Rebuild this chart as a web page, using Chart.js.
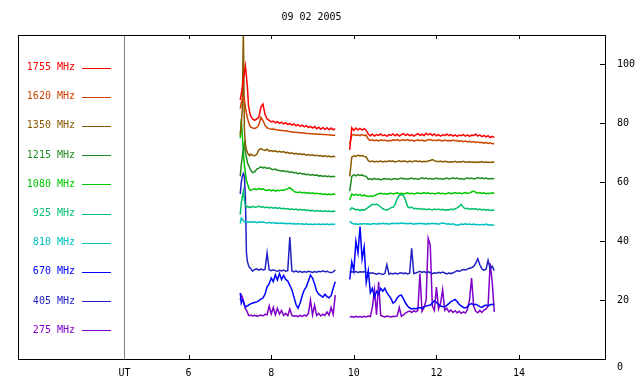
<!DOCTYPE html>
<html>
<head>
<meta charset="utf-8">
<script src="https://cdn.jsdelivr.net/npm/chart.js@4.4.1/dist/chart.umd.min.js"></script>
<style>
  body { margin: 0; background: #fff; }
  #wrap { width: 640px; height: 384px; }
</style>
</head>
<body>
<div id="wrap"><canvas id="radioChart"></canvas></div>
<script>
// time axis (UT hours): first block, gap, second block
var hours = [
  7.25, 7.275, 7.3, 7.325, 7.35, 7.375, 7.4, 7.425, 7.45, 7.475, 7.5,
  7.55, 7.6, 7.65, 7.7, 7.75, 7.8, 7.85, 7.9, 7.95, 8, 8.05, 8.1, 8.15, 8.2,
  8.25, 8.3, 8.35, 8.4, 8.45, 8.5, 8.55, 8.6, 8.65, 8.7, 8.75, 8.8, 8.85, 8.9,
  8.95, 9, 9.05, 9.1, 9.15, 9.2, 9.25, 9.3, 9.35, 9.4, 9.45, 9.5, 9.55,
  9.7,
  9.9, 9.95, 10, 10.05, 10.1, 10.15, 10.2, 10.25, 10.3, 10.35, 10.4, 10.45,
  10.5, 10.55, 10.6, 10.65, 10.7, 10.75, 10.8, 10.85, 10.9, 10.95, 11, 11.05,
  11.1, 11.15, 11.2, 11.25, 11.3, 11.35, 11.4, 11.45, 11.5, 11.55, 11.6, 11.65,
  11.7, 11.75, 11.8, 11.85, 11.9, 11.95, 12, 12.05, 12.1, 12.15, 12.2, 12.25,
  12.3, 12.35, 12.4, 12.45, 12.5, 12.55, 12.6, 12.65, 12.7, 12.75, 12.8, 12.85,
  12.9, 12.95, 13, 13.05, 13.1, 13.15, 13.2, 13.25, 13.3, 13.35, 13.4
];

var f1755 = [
  88, 90, 92, 95, 97, 99.5, 96, 92, 86, 84,
  82.5, 81.5, 81, 81.5, 82, 85.5, 86.5, 83, 81.5, 81,
  80.5, 80.8, 80.2, 80.6, 80, 80.4, 79.8, 80.2, 79.6, 80,
  79.4, 79.8, 79.2, 79.6, 79, 79.4, 78.8, 79.2, 78.6, 79,
  78.4, 78.9, 78.2, 78.7, 78, 78.6, 77.9, 78.5, 77.8, 78.4,
  77.8, 78.2,
  null,
  71, 78.5, 77.6, 78.4, 77.8, 78.3, 77.7, 78.2, 77.6, 76.4,
  75.8, 76.3, 75.7, 76.2, 75.9, 76.4, 75.8, 76.1, 75.6, 76.2,
  75.9, 76.4, 75.8, 76.3, 75.7, 76.2, 76.5, 75.9, 76.3, 75.8,
  76.2, 75.7, 76.1, 76.5, 75.9, 76.3, 75.8, 76.6, 76.1, 76.5,
  75.9, 76.4, 75.8, 76.2, 75.7, 76.1, 75.9, 76.3, 75.8, 76.2,
  75.7, 76.1, 75.6, 76, 75.8, 76.2, 75.7, 76.1, 75.6, 76,
  75.9, 76.3, 75.7, 76.1, 75.5, 75.9, 75.4, 75.8, 75.2, 75.6,
  75.2
];
var f1620 = [
  85, 87, 88, 89, 88, 85.5, 83.5, 81.7, 80.5, 79.5,
  78.8, 78.4, 78.3, 78.6, 79.5, 82, 81, 79.3, 78.5, 78.2,
  78, 78.1, 77.9, 77.8, 77.7, 77.6, 77.5, 77.5, 77.3, 77.2,
  77.1, 77, 77, 76.9, 76.8, 76.8, 76.7, 76.6, 76.6, 76.5,
  76.5, 76.4, 76.4, 76.3, 76.3, 76.2, 76.2, 76.1, 76.1, 76,
  76, 76,
  null,
  73, 76, 76.2, 75.9, 76.1, 75.8, 76.2, 75.9, 76, 74.6,
  74.2, 74.4, 74.1, 74.3, 74, 74.4, 74.2, 74.3, 74, 74.2,
  74.1, 74.4, 74.2, 74.5, 74.1, 74.3, 74.4, 74.2, 74.5, 74.1,
  74.3, 74, 74.2, 74.4, 74.1, 74.3, 74, 74.2, 74.4, 74.5,
  74.2, 74.3, 74.1, 74.4, 74.2, 74, 74.3, 74.1, 74.2, 74,
  74.3, 74.1, 74.2, 73.9, 74.1, 73.8, 74, 73.7, 73.9, 73.6,
  73.8, 73.5, 73.7, 73.4, 73.6, 73.3, 73.5, 73.2, 73.4, 73.1,
  73.2
];
var f1350 = [
  76, 80, 85, 112, 78, 73, 71, 70, 69.5, 69,
  69.5, 69.2, 69, 69.5, 71, 71.4, 71, 70.8, 71.2, 70.6,
  70.8, 70.5, 70.7, 70.3, 70.5, 70.2, 70.4, 70, 70.2, 69.8,
  70, 69.6, 69.8, 69.5, 69.7, 69.4, 69.6, 69.2, 69.4, 69.1,
  69.3, 69, 69.2, 68.9, 69.1, 68.8, 69, 68.7, 68.9, 68.6,
  68.8, 68.7,
  null,
  62, 68.5, 69, 68.8, 69.2, 68.9, 69.1, 68.8, 68.6, 67.3,
  67, 67.2, 66.9, 67.1, 67, 67.2, 66.9, 67.1, 67, 67.3,
  67.1, 67.2, 66.9, 67.1, 67.3, 67, 67.2, 67.1, 66.9, 67.2,
  67, 67.1, 67.3, 67, 67.2, 66.9, 67.1, 67, 67.2, 67.4,
  67.7, 67.3, 67.1, 67, 67.2, 66.9, 67.1, 67, 66.8, 67,
  66.9, 67.1, 66.8, 67, 66.9, 67.1, 66.8, 66.9, 67, 66.8,
  66.9, 66.7, 66.9, 66.8, 67, 66.7, 66.9, 66.8, 66.7, 66.9,
  66.8
];
var f1215 = [
  62, 66, 68.6, 71, 73, 70, 68.5, 66.5, 65.8, 65,
  64.2, 63.3, 63.5, 64.5, 64.8, 65.2, 64.9, 65.1, 64.7, 64.9,
  64.5, 64.3, 64.5, 64.1, 64, 63.8, 63.9, 63.6, 63.7, 63.4,
  63.5, 63.2, 63.3, 62.9, 63.1, 62.8, 62.9, 62.6, 62.7, 62.4,
  62.6, 62.3, 62.5, 62.1, 62.3, 62, 62.2, 61.9, 62.1, 61.8,
  62, 61.9,
  null,
  57, 62, 62.5, 62.2, 62.6, 62.3, 62.5, 62.1, 62, 61,
  61.2, 60.9, 61.3, 61, 61.2, 60.8, 61.1, 61.3, 61, 61.2,
  60.9, 61.1, 61.3, 61, 61.2, 61.4, 61.1, 61.3, 61, 61.2,
  61.4, 61.1, 61.3, 61, 61.2, 61.5, 61.2, 61.4, 61.1, 61.3,
  61, 61.2, 61.4, 61.1, 61.3, 61, 61.2, 61.4, 61.1, 61.3,
  61.5, 61.2, 61.4, 61.1, 61.3, 61, 61.2, 61.5, 61.2, 61.4,
  61.1, 61.3, 61.6, 61.3, 61.5, 61.2, 61.4, 61.1, 61.3, 61.2,
  61.3
];
var f1080 = [
  75, 81.5, 76, 70, 66, 63, 60.5, 59.5, 58.5, 57.5,
  57.3, 57.6, 57.8, 57.5, 57.9, 57.6, 57.8, 57.4, 57.2, 57.5,
  57.1, 57.4, 57, 57.3, 57.1, 57.4, 57.2, 57.6, 57.8, 58.2,
  57.6, 57, 56.6, 56.5, 56.7, 56.4, 56.6, 56.3, 56.5, 56.2,
  56.4, 56.1, 56.3, 56, 56.2, 55.9, 56.1, 55.8, 56, 55.8,
  56, 55.9,
  null,
  54, 56, 55.6, 55.9, 55.5, 55.8, 55.4, 55.7, 55.3, 55.2,
  55.4, 55.2, 55.5, 55.8, 56.1, 56.3, 56, 56.2, 55.9, 56.2,
  56.3, 56, 56.2, 56.4, 56.1, 56.3, 56, 56.2, 56.4, 56.1,
  56.3, 56, 56.2, 56.4, 56.1, 56.3, 56.5, 56.2, 56.4, 56.1,
  56.3, 56, 56.2, 56.4, 56.1, 56.3, 56, 56.2, 56.4, 56.1,
  56.3, 56.5, 56.2, 56.4, 56.1, 56.3, 56.5, 56.2, 56.4, 56.7,
  57, 56.6, 56.3, 56.5, 56.2, 56.4, 56.1, 56.3, 56.2, 56.4,
  56.2
];
var f925 = [
  49, 53, 55, 57, 54, 52, 51.6, 51.8, 51.5, 51.7,
  51.4, 51.8, 51.5, 51.6, 51.9, 51.5, 51.7, 51.4, 51.6, 51.3,
  51.5, 51.2, 51.4, 51.1, 51.3, 51, 51.2, 50.9, 51.1, 50.8,
  51, 50.7, 50.9, 50.6, 50.8, 50.5, 50.7, 50.4, 50.6, 50.3,
  50.5, 50.2, 50.4, 50.2, 50.3, 50.1, 50.3, 50.1, 50.2, 50,
  50.2, 50.1,
  null,
  50.5, 51.3, 51, 50.6, 50.8, 50.4, 50.7, 50.5, 51, 51.5,
  52, 52.5, 52.4, 52.6, 52.2, 51.6, 51, 50.7, 50.6, 50.9,
  51.4, 51.5, 52.5, 54.5, 55.6, 55.8, 55.5, 54, 51.8, 51.3,
  51.6, 51, 51.2, 50.9, 51.1, 50.8, 51, 50.7, 50.9, 50.8,
  50.6, 50.9, 50.7, 50.9, 50.6, 50.8, 50.5, 50.7, 50.6, 50.9,
  50.7, 51, 51.3, 51.8, 52.5, 51.5, 51, 51.2, 50.8, 51.1,
  50.9, 51, 50.7, 50.9, 50.6, 50.8, 50.5, 50.7, 50.4, 50.6,
  50.5
];
var f810 = [
  46, 47.8, 47.5, 47, 46.6, 46.5, 46.7, 46.4, 46.6, 46.5,
  46.6, 46.4, 46.6, 46.3, 46.5, 46.4, 46.6, 46.3, 46.2, 46.4,
  46.1, 46.3, 46.1, 46.2, 46, 46.2, 46, 46.1, 45.9, 46.1,
  45.9, 46, 45.8, 46, 45.8, 45.9, 45.7, 45.9, 45.7, 45.8,
  45.6, 45.8, 45.7, 45.8, 45.6, 45.8, 45.7, 45.8, 45.6, 45.8,
  45.7, 45.8,
  null,
  46.8, 46.1, 45.8, 45.9, 45.7, 45.9, 45.8, 46, 45.8, 45.9,
  45.7, 45.9, 46, 45.8, 46, 45.9, 46.1, 45.9, 46, 45.8,
  46, 46.1, 45.9, 46.1, 46, 46.2, 46, 46.1, 45.9, 46.1,
  46, 45.8, 46, 45.9, 46.1, 45.9, 46, 45.8, 46, 45.9,
  46.1, 45.9, 46, 45.8, 46, 46.2, 46, 45.8, 45.9, 45.7,
  45.9, 45.6, 45.4, 45.6, 45.8, 45.7, 45.9, 45.7, 45.8, 45.6,
  45.8, 45.6, 45.7, 45.5, 45.7, 45.6, 45.8, 45.5, 45.6, 45.4,
  45.5
];
var f670 = [
  22.4, 19, 20, 19.5, 18.5, 17.7, 17.8, 18, 18.3, 18.5,
  18.7, 19, 19.2, 19.4, 19.8, 20.3, 20.7, 22, 24.5, 25.5,
  27.5, 26.3, 28.6, 26.8, 29, 27, 28.4, 27, 26.5, 25,
  23.5, 21, 18.5, 17.2, 19, 21.5, 23.5, 24.5, 26.5, 28.5,
  27.5, 25.5, 23, 22, 21.5, 21, 22, 21.2, 20.8, 21.5,
  24, 26.2,
  null,
  27, 33, 30, 40, 36, 45, 34, 38, 26, 30,
  22.5, 24, 21, 23, 22, 24, 23, 24, 22.5, 21.5,
  20.5, 19, 19.5, 20.7, 21.5, 21.7, 20.5, 19, 18, 17.3,
  17, 17.2, 17, 17.3, 17.5, 17.2, 17.8, 18, 18.2, 18.3,
  19, 19.8, 19.2, 18.5, 18, 17.8, 17.7, 18.2, 18.8, 19.5,
  19.8, 20.2, 19.5, 18.5, 18, 17.5, 17.3, 17.8, 18.5, 18.8,
  18.4, 18.6, 18.2, 17.8, 17.5, 18, 18.3, 18, 18.4, 18.6,
  18.4
];
var f405 = [
  56, 60, 62, 63, 62, 55, 36, 33, 31.8, 31,
  30.8, 29.8, 30.4, 30.6, 30.2, 30.5, 30.2, 30.4, 36, 30.3,
  30, 30.3, 30, 29.8, 30.1, 29.9, 30.2, 29.8, 30, 41.4,
  29.9, 29.6, 29.9, 29.5, 29.8, 29.4, 29.7, 29.5, 29.8, 29.6,
  29.4, 29.7, 29.5, 29.8, 29.6, 29.9, 29.6, 29.8, 29.5, 29.3,
  29.6, 30.2,
  null,
  29.5, 29.6, 29.5, 29.7, 29.4, 29.6, 29.5, 29.6, 29.4, 29.3,
  29.1, 29.3, 29, 28.8, 29.1, 28.9, 28.7, 29, 32, 28.8,
  29.1, 28.9, 29.2, 28.9, 29.1, 29.3, 29, 29.2, 28.9, 29.1,
  37.6, 29, 29.2, 29.5, 29.8, 29.4, 29.7, 29.3, 29.6, 29.3,
  29, 29.3, 29.1, 29.4, 29.2, 29.5, 29.2, 28.9, 29.2, 29,
  29.3, 29.6, 30, 29.7, 30.1, 30.4, 30.2, 30.5, 30.8, 31,
  31.4, 32.5, 34, 32, 30.6, 30.2, 30.5, 33.5, 30.6, 31.5,
  30
];
var f275 = [
  20, 21.7, 21, 20, 18.3, 17, 16.6, 15.8, 14.9, 14.7,
  14.9, 14.6, 14.8, 14.5, 14.7, 14.9, 14.6, 15.2, 15, 18,
  15.3, 17.5, 15, 17.2, 15.2, 16.5, 14.8, 15.5, 14.7, 17,
  14.8, 14.5, 14.7, 14.4, 14.8, 14.5, 14.9, 14.6, 15.5, 20,
  15, 18.3, 14.8, 15.5, 14.6, 15.2, 14.8, 16, 14.9, 17.5,
  15.2, 21.7,
  null,
  14.3, 14.4, 14.2, 14.5, 14.3, 14.4, 14.2, 14.5, 14.3, 14.6,
  14.4, 17.7, 23.4, 15, 26.2, 14.8, 14.5, 14.3, 14.6, 14.4,
  14.3, 14.5, 14.4, 14.6, 17.5, 14.5, 15, 15.6, 16, 16.3,
  15.8, 16.4, 16, 16.5, 29, 16.2, 17.5, 20, 41, 38.6,
  18, 16.5, 24.4, 17, 19, 23.5, 16.5, 17.2, 16, 16.6,
  15.8, 16.4, 15.7, 16.2, 15.5, 16, 15.6, 16.8, 20, 27.5,
  18, 16.2, 15.7, 16.5, 15.8, 16.6, 17, 18, 32.5, 26.2,
  16
];

var labels = ['1755 MHz', '1620 MHz', '1350 MHz', '1215 MHz', '1080 MHz',
              '925 MHz', '810 MHz', '670 MHz', '405 MHz', '275 MHz'];
var series = [f1755, f1620, f1350, f1215, f1080, f925, f810, f670, f405, f275];
var colors = ['#ff0000', '#cc4400', '#8a5a00', '#228b22', '#00c800',
              '#00c070', '#00c0c0', '#0000ff', '#2222c4', '#8000c8'];

var xTicks = [4.45, 6, 8, 10, 12, 14];   // 4.45 = "UT" marker line
var yTicks = [0, 20, 40, 60, 80, 100];
var UT = 4.45;

var FONT = 'DejaVu Sans Mono';
Chart.defaults.font.family = FONT;
Chart.defaults.font.size = 10;
Chart.defaults.color = '#000';

// frame, inside tick marks and the left-hand legend
var framePlugin = {
  id: 'frame',
  afterDraw: function(chart) {
    var ctx = chart.ctx, a = chart.chartArea;
    var xs = chart.scales.x, ys = chart.scales.y;
    ctx.save();
    ctx.strokeStyle = '#000';
    ctx.lineWidth = 1;
    ctx.strokeRect(a.left + 0.5, a.top + 0.5, a.right - a.left, a.bottom - a.top);
    ctx.beginPath();
    xTicks.forEach(function(v) {
      if (v === UT) return;
      var px = Math.round(xs.getPixelForValue(v)) + 0.5;
      ctx.moveTo(px, a.bottom); ctx.lineTo(px, a.bottom - 4);
      ctx.moveTo(px, a.top); ctx.lineTo(px, a.top + 4);
    });
    yTicks.forEach(function(v) {
      var py = Math.round(ys.getPixelForValue(v)) + 0.5;
      ctx.moveTo(a.right, py); ctx.lineTo(a.right - 5, py);
    });
    ctx.stroke();

    ctx.font = '10px "' + FONT + '"';
    ctx.textAlign = 'right';
    ctx.textBaseline = 'middle';
    chart.data.datasets.forEach(function(ds, i) {
      var ry = 67.5 + i * 29.2;
      ctx.fillStyle = ds.borderColor;
      ctx.fillText(ds.label, 75, ry);
      ctx.strokeStyle = ds.borderColor;
      ctx.beginPath();
      ctx.moveTo(82, Math.round(ry) + 0.5);
      ctx.lineTo(111, Math.round(ry) + 0.5);
      ctx.stroke();
    });
    ctx.restore();
  }
};

var ctx = document.getElementById('radioChart').getContext('2d');
var radioChart = new Chart(ctx, {
  type: 'line',
  data: {
    datasets: series.map(function(vals, i) {
      return {
        label: labels[i],
        data: hours.map(function(h, k) { return { x: h, y: vals[k] }; }),
        borderColor: colors[i],
        borderWidth: 1.5,
        pointRadius: 0,
        tension: 0,
        spanGaps: false
      };
    })
  },
  options: {
    responsive: true,
    maintainAspectRatio: false,
    animation: false,
    layout: { padding: { left: 18, top: 0, right: 0, bottom: 0 } },
    plugins: {
      legend: { display: false },
      tooltip: { enabled: false },
      title: {
        display: true,
        text: '09 02 2005',
        fullSize: false,
        color: '#000',
        font: { family: FONT, size: 10, weight: 'normal' },
        padding: { top: 11, bottom: 12 }
      }
    },
    scales: {
      x: {
        type: 'linear',
        position: 'bottom',
        min: 1.87,
        max: 16.08,
        afterBuildTicks: function(s) { s.ticks = xTicks.map(function(v) { return { value: v }; }); },
        afterFit: function(s) { s.height = 25; },
        border: { display: false },
        grid: {
          drawTicks: false,
          color: function(c) { return c.tick && c.tick.value === UT ? '#808080' : 'rgba(0,0,0,0)'; }
        },
        ticks: {
          autoSkip: false,
          maxRotation: 0,
          minRotation: 0,
          padding: 8,
          callback: function(v) { return v === UT ? 'UT' : String(v); }
        }
      },
      y: {
        position: 'right',
        min: 0,
        max: 110,
        afterBuildTicks: function(s) { s.ticks = yTicks.map(function(v) { return { value: v }; }); },
        afterFit: function(s) { s.width = 35; },
        border: { display: false },
        grid: { display: false },
        ticks: {
          padding: 4,
          font: { family: FONT, size: 10, lineHeight: 1.6 },
          callback: function(v) { return v === 0 ? ['', '0'] : String(v); }
        }
      }
    }
  },
  plugins: [framePlugin]
});
</script>
</body>
</html>
